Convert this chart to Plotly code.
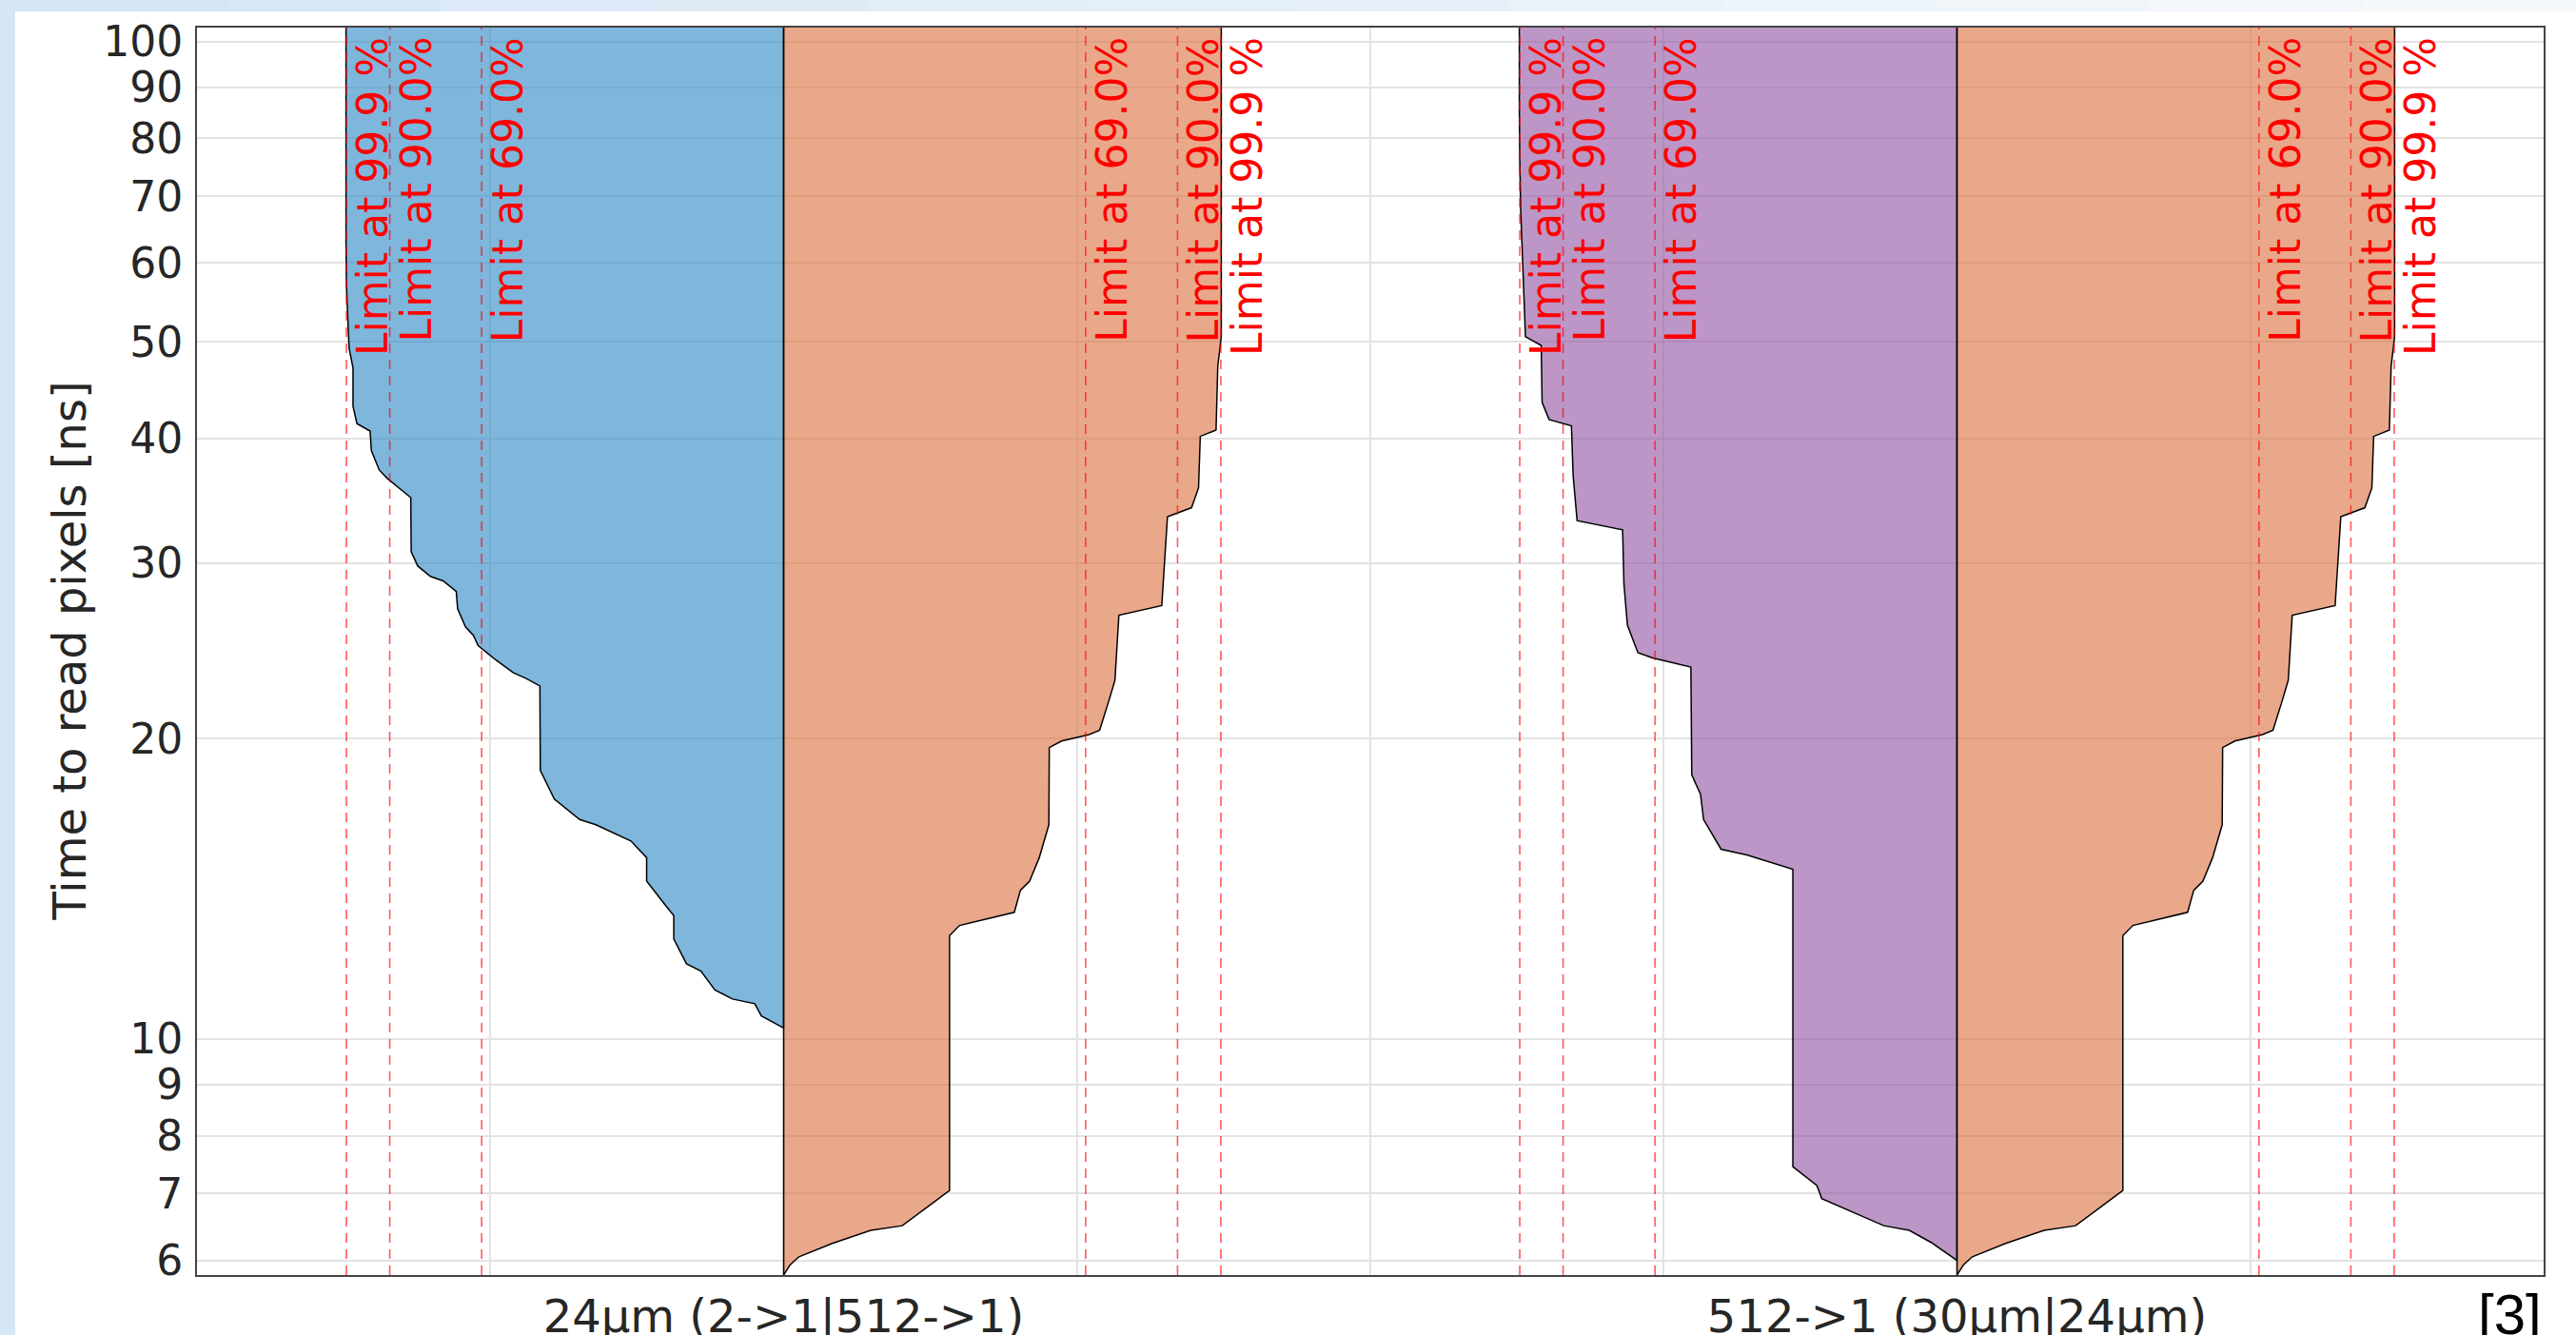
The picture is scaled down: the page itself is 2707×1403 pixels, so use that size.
import numpy as np
import plotly.graph_objects as go

# ---------------- data ----------------
categories = ["24µm (2->1|512->1)", "512->1 (30µm|24µm)"]

# share of pixels read (0..1) versus time [ns]
# 24µm, 2->1 readout
a_time = [10.26, 10.55, 10.85, 10.97, 11.2, 11.7, 11.9, 12.6, 13.3, 13.6, 14.4, 15.2, 15.8,
          16.4, 16.6, 17.4, 18.6, 22.6, 23.0, 23.3, 24.0, 24.8, 25.4, 25.9, 27.0, 28.1,
          28.8, 29.1, 29.8, 30.8, 34.9, 35.8, 36.5, 37.2, 38.9, 40.7, 41.4, 43.1, 47.1,
          49.3, 53.3, 57.0, 63.0]
a_frac = [0.0, 0.051, 0.066, 0.117, 0.157, 0.189, 0.222, 0.251, 0.251, 0.269, 0.313, 0.313, 0.349,
          0.429, 0.466, 0.524, 0.556, 0.557, 0.589, 0.618, 0.658, 0.698, 0.709, 0.727, 0.745, 0.748,
          0.778, 0.807, 0.836, 0.851, 0.852, 0.884, 0.906, 0.924, 0.942, 0.945, 0.975, 0.984, 0.984,
          0.993, 0.996, 0.999, 1.0]

# 24µm, 512->1 readout
b_time = [5.80, 5.94, 6.05, 6.24, 6.43, 6.50, 7.05, 12.7, 13.0, 13.4, 14.1, 14.4, 15.2, 16.4,
          19.6, 19.9, 20.2, 20.4, 21.9, 22.9, 26.6, 27.2, 33.4, 34.1, 35.7, 40.2, 40.8,
          47.3, 49.3, 50.7]
b_frac = [0.0, 0.015, 0.035, 0.111, 0.199, 0.271, 0.379, 0.379, 0.402, 0.527, 0.541, 0.562, 0.584, 0.606,
          0.607, 0.635, 0.698, 0.722, 0.744, 0.757, 0.766, 0.864, 0.877, 0.932, 0.948, 0.952, 0.988,
          0.992, 0.997, 1.0]

# 30µm, 512->1 readout
c_time = [6.0, 6.25, 6.43, 6.50, 6.67, 6.92, 7.13, 7.45, 14.8, 15.3, 15.5, 16.6, 17.6, 18.4,
          23.6, 24.1, 24.4, 26.0, 28.6, 32.4, 33.1, 36.7, 41.2, 41.8, 43.5, 49.6, 50.6,
          59.6, 68.0, 76.4, 85.6]
c_frac = [0.0, 0.058, 0.109, 0.167, 0.226, 0.309, 0.320, 0.375, 0.375, 0.480, 0.539, 0.579, 0.586, 0.606,
          0.608, 0.695, 0.729, 0.753, 0.761, 0.764, 0.868, 0.877, 0.881, 0.932, 0.948, 0.950, 0.986,
          0.992, 0.997, 0.999, 1.0]

limit_levels = [99.9, 90.0, 69.0]
limit_labels = ["Limit at 99.9 %", "Limit at 90.0%", "Limit at 69.0%"]

y_ticks = [6, 7, 8, 9, 10, 20, 30, 40, 50, 60, 70, 80, 90, 100]
y_min, y_max = 5.8, 103.3
y_title = "Time to read pixels [ns]"
source_note = "[3]"

# ---------------- styling ----------------
HALF_W = 0.373
BLUE = "rgba(40,133,197,0.6)"
ORANGE = "rgba(218,110,60,0.6)"
PURPLE = "rgba(143,80,160,0.6)"
FONT = "DejaVu Sans"

halves = [
    (0, -1, a_time, a_frac, BLUE),
    (0, +1, b_time, b_frac, ORANGE),
    (1, -1, c_time, c_frac, PURPLE),
    (1, +1, b_time, b_frac, ORANGE),
]

fig = go.Figure()
y_top = 115.0
for ci, side, t, f, col in halves:
    xs = [ci + side * HALF_W * v for v in f] + [ci + side * HALF_W * f[-1], ci, ci]
    ys = list(t) + [y_top, y_top, t[0]]
    fig.add_trace(go.Scatter(
        x=xs, y=ys, mode="lines", fill="toself", fillcolor=col,
        line=dict(color="black", width=1.5), hoverinfo="skip", showlegend=False,
    ))

W_PX, H_PX = 2707, 1403
L, R, T, B = 207, 34, 29, 63
pw, ph = W_PX - L - R, H_PX - T - B
def px_x(p):
    return (p - L) / pw
def px_y(p):
    return (H_PX - B - p) / ph

shapes = []
annotations = []
for ci in range(len(categories)):
    for side in (-1, +1):
        for lvl, lab in zip(limit_levels, limit_labels):
            xv = ci + side * HALF_W * lvl / 100.0
            shapes.append(dict(type="line", xref="x", yref="paper", x0=xv, x1=xv, y0=0, y1=1,
                               line=dict(color="rgba(255,0,0,0.65)", width=1.6, dash="10px,7px"),
                               layer="above"))
            annotations.append(dict(x=xv, xref="x", y=1, yref="paper", xanchor="left",
                                    yanchor="top", yshift=-8, xshift=0, textangle=-90,
                                    text=lab, showarrow=False,
                                    font=dict(family=FONT, size=44, color="#ff0000")))

# frame background strips (light blue) outside the plot
shapes.append(dict(type="rect", xref="paper", yref="paper", x0=px_x(0), x1=px_x(16),
                   y0=px_y(H_PX), y1=px_y(0), fillcolor="#d5e7f5", line=dict(width=0), layer="below"))
nseg = 12
for i in range(nseg):
    a = i / (nseg - 1)
    r = int(213 + a * (246 - 213)); g = int(231 + a * (249 - 231)); b = int(245 + a * (252 - 245))
    shapes.append(dict(type="rect", xref="paper", yref="paper",
                       x0=px_x(16 + i * (W_PX - 16) / nseg), x1=px_x(16 + (i + 1) * (W_PX - 16) / nseg + 1),
                       y0=px_y(12), y1=px_y(0), fillcolor=f"rgb({r},{g},{b})",
                       line=dict(width=0), layer="below"))

annotations.append(dict(x=px_x(72), xref="paper", y=0.5, yref="paper", xanchor="center",
                        yanchor="middle", textangle=-90, text=y_title, showarrow=False,
                        font=dict(family=FONT, size=48, color="#262626")))
annotations.append(dict(x=1, xref="paper", y=0, yref="paper", xanchor="right", yanchor="top",
                        yshift=-6, text=source_note, showarrow=False,
                        font=dict(family="Liberation Sans", size=60, color="black")))

fig.update_layout(
    width=W_PX, height=H_PX,
    margin=dict(l=L, r=R, t=T, b=B, pad=0, autoexpand=False),
    paper_bgcolor="white", plot_bgcolor="white",
    shapes=shapes, annotations=annotations,
    showlegend=False,
)
fig.update_xaxes(
    range=[-0.5, 1.5], tickmode="array", tickvals=[0, 1], ticktext=categories,
    showgrid=True, gridcolor="#e3e3e3", gridwidth=2,
    minor=dict(tickmode="array", tickvals=[-0.25, 0.25, 0.5, 0.75, 1.25], showgrid=True,
               gridcolor="#e3e3e3", gridwidth=2),
    showline=True, linecolor="#444", linewidth=2, mirror=True, ticks="",
    ticklabelstandoff=0, automargin=False,
    tickfont=dict(family=FONT, size=48, color="#262626"), zeroline=False,
)
fig.update_yaxes(
    type="log", range=[np.log10(y_min), np.log10(y_max)],
    tickmode="array", tickvals=y_ticks, ticktext=[str(v) for v in y_ticks],
    showgrid=True, gridcolor="#e3e3e3", gridwidth=2,
    showline=True, linecolor="#444", linewidth=2, mirror=True, ticks="",
    ticklabelstandoff=4, automargin=False,
    tickfont=dict(family=FONT, size=44, color="#262626"),
)

fig.write_html("out.html", config={"displayModeBar": False},
               post_script="document.body.style.margin='0px';")
